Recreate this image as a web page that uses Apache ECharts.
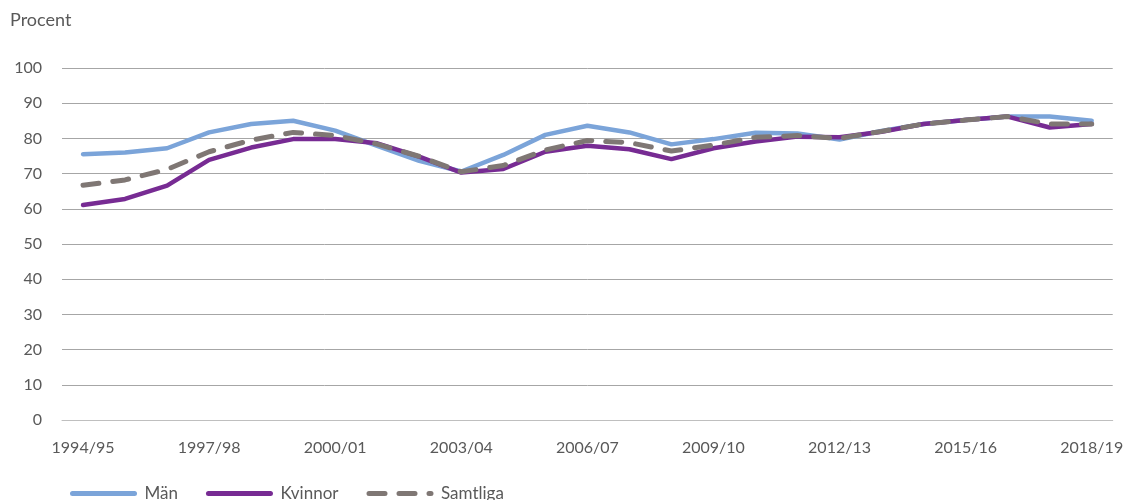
<!DOCTYPE html>
<html>
<head>
<meta charset="utf-8">
<script src="https://cdn.jsdelivr.net/npm/echarts@6/dist/echarts.min.js"></script>
<style>
  html, body { margin: 0; padding: 0; background: #fff; }
  #chart { width: 1126px; height: 500px; }
</style>
</head>
<body>
<div id="chart"></div>
<script>
// categories (school years)
var years = ['1994/95','1995/96','1996/97','1997/98','1998/99','1999/00','2000/01','2001/02',
  '2002/03','2003/04','2004/05','2005/06','2006/07','2007/08','2008/09','2009/10','2010/11',
  '2011/12','2012/13','2013/14','2014/15','2015/16','2016/17','2017/18','2018/19'];

var man = [75.5, 76.0, 77.2, 81.7, 84.1, 85.0, 82.2, 77.9, 73.6, 70.6, 75.3, 81.0, 83.6,
  81.7, 78.3, 79.8, 81.6, 81.4, 79.7, 82.1, 84.1, 85.2, 86.2, 86.2, 85.0];
var kvinnor = [61.1, 62.8, 66.6, 73.9, 77.4, 79.8, 79.8, 78.6, 74.8, 70.3, 71.3, 76.2, 77.9,
  76.9, 74.1, 77.2, 79.1, 80.5, 80.3, 81.9, 84.1, 85.2, 86.2, 83.1, 84.1];
var samtliga = [66.7, 68.2, 71.2, 76.2, 79.5, 81.7, 80.8, 78.4, 74.9, 70.5, 72.3, 76.7, 79.4,
  78.8, 76.4, 78.1, 80.3, 80.8, 80.0, 82.0, 84.1, 85.2, 86.2, 84.1, 84.1];

var font = 'Lato';
var txt = '#595959';

var chart = echarts.init(document.getElementById('chart'));

var option = {
  animation: false,
  textStyle: { fontFamily: font },
  title: {
    text: 'Procent',
    left: 5, top: 6,
    textStyle: { fontFamily: font, fontSize: 18, fontWeight: 'normal', color: txt }
  },
  legend: {
    left: 65, top: 480,
    itemWidth: 62, itemHeight: 8, itemGap: 28,
    itemStyle: { opacity: 0 },
    lineStyle: { width: 5 },
    textStyle: { fontFamily: font, fontSize: 17, color: txt, padding: [0, 0, 0, 5] },
    data: ['Män', 'Kvinnor', 'Samtliga']
  },
  grid: { left: 62, right: 5, top: 68, bottom: 80 },
  xAxis: {
    type: 'category',
    data: years,
    boundaryGap: true,
    axisLine: { lineStyle: { color: '#bfbfbf', width: 1 } },
    axisTick: { show: false },
    axisLabel: { interval: 2, color: txt, fontSize: 16, margin: 20, fontFamily: font }
  },
  yAxis: {
    type: 'value',
    min: 0, max: 100, interval: 10,
    axisLine: { show: false },
    axisTick: { show: false },
    axisLabel: { color: txt, fontSize: 16, margin: 20, fontFamily: font },
    splitLine: { lineStyle: { color: '#a6a6a6', width: 1 } }
  },
  series: [{
    name: 'Män',
    type: 'line',
    data: man,
    showSymbol: false,
    symbol: 'none',
    color: '#7ba4d9',
    lineStyle: { width: 4.5, color: '#7ba4d9', cap: 'round' }
  }, {
    name: 'Kvinnor',
    type: 'line',
    data: kvinnor,
    showSymbol: false,
    symbol: 'none',
    color: '#772b93',
    lineStyle: { width: 4.5, color: '#772b93', cap: 'round' }
  }, {
    name: 'Samtliga',
    type: 'line',
    data: samtliga,
    showSymbol: false,
    symbol: 'none',
    color: '#7f7774',
    lineStyle: { width: 5, color: '#7f7774', type: [16, 14], cap: 'round' }
  }]
};

chart.setOption(option);
</script>
</body>
</html>
